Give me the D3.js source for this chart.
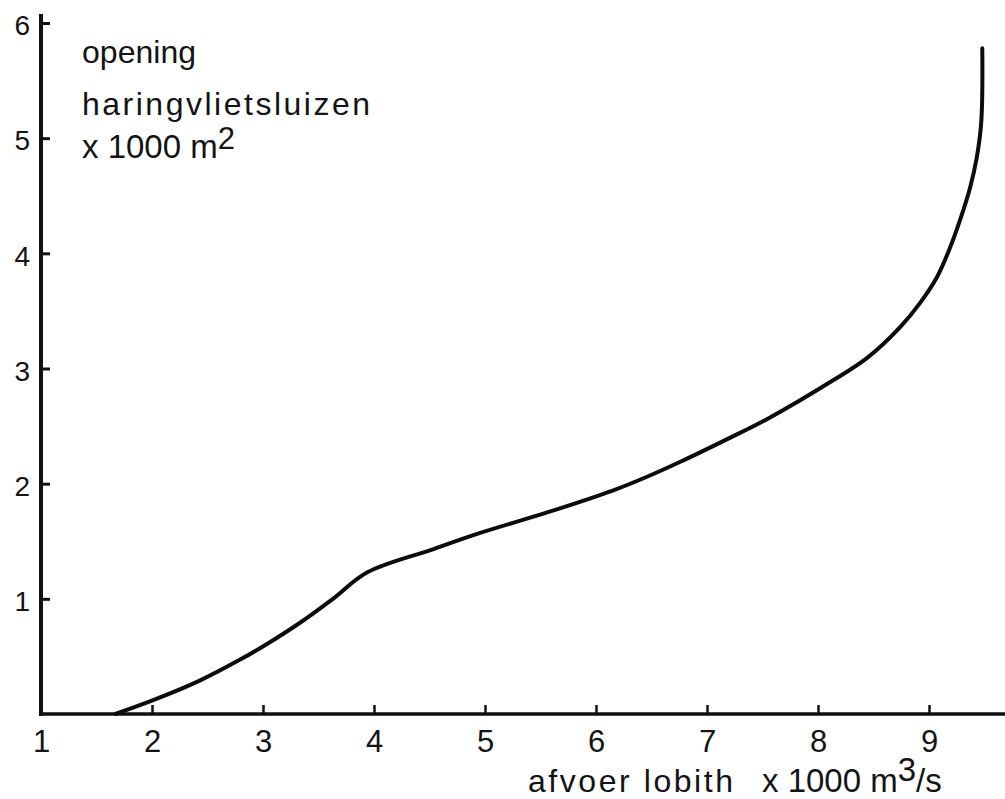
<!DOCTYPE html>
<html>
<head>
<meta charset="utf-8">
<script src="https://cdn.jsdelivr.net/npm/d3@7"></script>
<style>
  html, body { margin: 0; padding: 0; background: #fff; }
  svg text { font-family: "Liberation Sans", Arial, sans-serif; fill: #141414; }
</style>
</head>
<body>
<svg id="chart"></svg>
<script>
const width = 1005;
const height = 799;

// afvoer lobith (x 1000 m3/s) against opening haringvlietsluizen (x 1000 m2)
const afvoer = [1.67, 2.01, 2.43, 2.79, 3.04, 3.33, 3.63, 3.94, 4.53, 4.95, 5.56, 6.15, 6.46, 6.76, 7.21, 7.54, 8.14, 8.44, 8.74, 8.92, 9.07, 9.19, 9.28, 9.37, 9.43, 9.47, 9.48];
const opening = [0, 0.12, 0.29, 0.47, 0.61, 0.79, 1.0, 1.23, 1.43, 1.57, 1.75, 1.94, 2.06, 2.19, 2.40, 2.56, 2.90, 3.09, 3.36, 3.57, 3.79, 4.05, 4.29, 4.57, 4.83, 5.13, 5.78];

const xTicks = [1, 2, 3, 4, 5, 6, 7, 8, 9];
const yTicks = [1, 2, 3, 4, 5, 6];

const svg = d3.select('#chart')
    .attr('width', width)
    .attr('height', height);

const x = d3.scaleLinear().domain([1, 9]).range([41, 929]);
const y = d3.scaleLinear().domain([0, 6]).range([714, 23]);

// axis lines, drawn a bit past the scale ranges like on the drawing
svg.append('line')
    .attr('x1', x(1)).attr('x2', width)
    .attr('y1', y(0)).attr('y2', y(0))
    .attr('stroke', '#111').attr('stroke-width', 3.5);
svg.append('line')
    .attr('x1', x(1)).attr('x2', x(1))
    .attr('y1', y(0) + 2).attr('y2', 14)
    .attr('stroke', '#111').attr('stroke-width', 4);

const yAxis = svg.append('g')
    .attr('transform', `translate(${x(1)},0)`)
    .call(d3.axisLeft(y).tickValues(yTicks).tickFormat(d3.format('d'))
        .tickSizeInner(-9).tickSizeOuter(0).tickPadding(11));
yAxis.select('.domain').remove();
yAxis.selectAll('line').attr('stroke', '#111').attr('stroke-width', 3);
yAxis.selectAll('text')
    .attr('font-size', 28)
    .attr('dy', '0.42em')
    .attr('fill', '#141414')
    .style('font-family', '"Liberation Sans", Arial, sans-serif');

const xAxis = svg.append('g')
    .attr('transform', `translate(0,${y(0)})`)
    .call(d3.axisBottom(x).tickValues(xTicks).tickFormat(d3.format('d'))
        .tickSizeInner(-9).tickSizeOuter(0).tickPadding(0));
xAxis.select('.domain').remove();
xAxis.selectAll('line').attr('stroke', '#111').attr('stroke-width', 2.5);
xAxis.selectAll('.tick').filter(d => d === 1).select('line').remove();
xAxis.selectAll('text')
    .attr('font-size', 31)
    .attr('y', 38)
    .attr('dy', 0)
    .attr('fill', '#141414')
    .style('font-family', '"Liberation Sans", Arial, sans-serif');

// the curve
const line = d3.line()
    .x((d, i) => x(afvoer[i]))
    .y(d => y(d))
    .curve(d3.curveCatmullRom.alpha(0.5));

svg.append('path')
    .datum(opening)
    .attr('d', line)
    .attr('fill', 'none')
    .attr('stroke', '#0c0c0c')
    .attr('stroke-width', 4)
    .attr('stroke-linejoin', 'round')
    .attr('stroke-linecap', 'round');

// y title, top left
svg.append('text').attr('x', 82).attr('y', 63)
    .attr('font-size', 32)
    .attr('textLength', 114).attr('lengthAdjust', 'spacing')
    .text('opening');
svg.append('text').attr('x', 82).attr('y', 115)
    .attr('font-size', 32)
    .attr('textLength', 288).attr('lengthAdjust', 'spacing')
    .text('haringvlietsluizen');
const yt = svg.append('text').attr('x', 82).attr('y', 158).attr('font-size', 33);
yt.append('tspan').text('x 1000 m');
yt.append('tspan').attr('dy', -9).attr('font-size', 31).text('2');

// x title, bottom right
svg.append('text').attr('x', 528).attr('y', 792)
    .attr('font-size', 32)
    .attr('textLength', 205).attr('lengthAdjust', 'spacing')
    .text('afvoer lobith');
const xt = svg.append('text').attr('x', 762).attr('y', 792).attr('font-size', 33);
xt.append('tspan').text('x 1000 m');
xt.append('tspan').attr('dy', -11).text('3');
xt.append('tspan').attr('dy', 11).text('/s');
</script>
</body>
</html>
